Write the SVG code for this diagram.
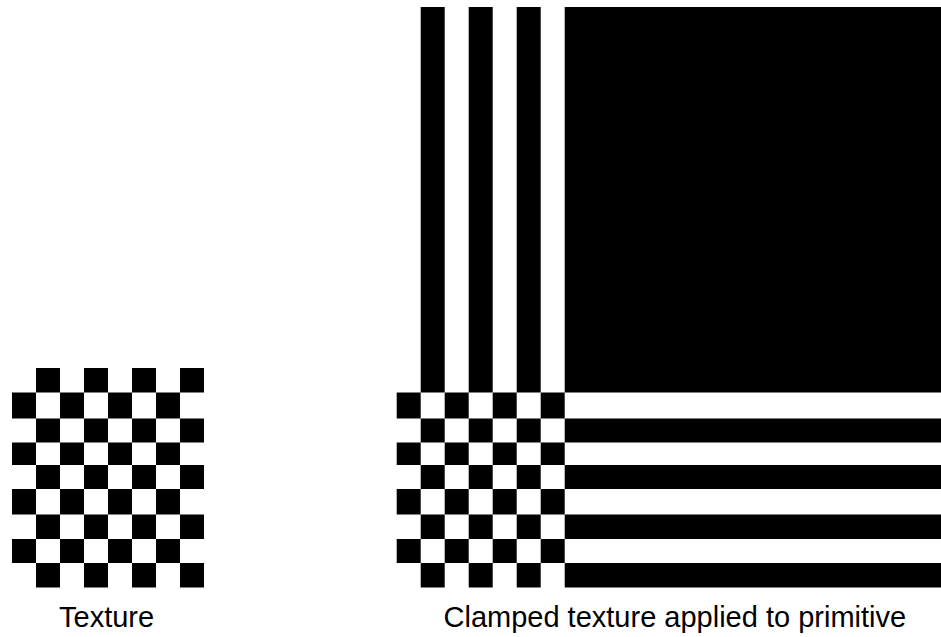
<svg xmlns="http://www.w3.org/2000/svg" width="941" height="637" viewBox="0 0 941 637">
<style>
.b{fill:#000}
.lbl{font-family:"Liberation Sans",Arial,sans-serif;font-size:29px;fill:#000}
</style>
<rect width="941" height="637" fill="#fff"/>
<g id="texture">
<rect class="b" x="36" y="368" width="24" height="24.5"/><rect class="b" x="84" y="368" width="24" height="24.5"/><rect class="b" x="132" y="368" width="24" height="24.5"/><rect class="b" x="180" y="368" width="24" height="24.5"/>
<rect class="b" x="12" y="392.5" width="24" height="26"/><rect class="b" x="60" y="392.5" width="24" height="26"/><rect class="b" x="108" y="392.5" width="24" height="26"/><rect class="b" x="156" y="392.5" width="24" height="26"/>
<rect class="b" x="36" y="418.5" width="24" height="24"/><rect class="b" x="84" y="418.5" width="24" height="24"/><rect class="b" x="132" y="418.5" width="24" height="24"/><rect class="b" x="180" y="418.5" width="24" height="24"/>
<rect class="b" x="12" y="442.5" width="24" height="22.5"/><rect class="b" x="60" y="442.5" width="24" height="22.5"/><rect class="b" x="108" y="442.5" width="24" height="22.5"/><rect class="b" x="156" y="442.5" width="24" height="22.5"/>
<rect class="b" x="36" y="465" width="24" height="24"/><rect class="b" x="84" y="465" width="24" height="24"/><rect class="b" x="132" y="465" width="24" height="24"/><rect class="b" x="180" y="465" width="24" height="24"/>
<rect class="b" x="12" y="489" width="24" height="25.5"/><rect class="b" x="60" y="489" width="24" height="25.5"/><rect class="b" x="108" y="489" width="24" height="25.5"/><rect class="b" x="156" y="489" width="24" height="25.5"/>
<rect class="b" x="36" y="514.5" width="24" height="24.5"/><rect class="b" x="84" y="514.5" width="24" height="24.5"/><rect class="b" x="132" y="514.5" width="24" height="24.5"/><rect class="b" x="180" y="514.5" width="24" height="24.5"/>
<rect class="b" x="12" y="539" width="24" height="24"/><rect class="b" x="60" y="539" width="24" height="24"/><rect class="b" x="108" y="539" width="24" height="24"/><rect class="b" x="156" y="539" width="24" height="24"/>
<rect class="b" x="36" y="563" width="24" height="24.5"/><rect class="b" x="84" y="563" width="24" height="24.5"/><rect class="b" x="132" y="563" width="24" height="24.5"/><rect class="b" x="180" y="563" width="24" height="24.5"/>
</g>
<g id="clamped">
<rect class="b" x="420.7" y="7" width="24" height="385.5"/><rect class="b" x="468.7" y="7" width="24" height="385.5"/><rect class="b" x="516.7" y="7" width="24" height="385.5"/><rect class="b" x="564.7" y="7" width="376.3" height="385.5"/>
<rect class="b" x="396.7" y="392.5" width="24" height="26"/><rect class="b" x="444.7" y="392.5" width="24" height="26"/><rect class="b" x="492.7" y="392.5" width="24" height="26"/><rect class="b" x="540.7" y="392.5" width="24" height="26"/>
<rect class="b" x="420.7" y="418.5" width="24" height="24"/><rect class="b" x="468.7" y="418.5" width="24" height="24"/><rect class="b" x="516.7" y="418.5" width="24" height="24"/><rect class="b" x="564.7" y="418.5" width="376.3" height="24"/>
<rect class="b" x="396.7" y="442.5" width="24" height="22.5"/><rect class="b" x="444.7" y="442.5" width="24" height="22.5"/><rect class="b" x="492.7" y="442.5" width="24" height="22.5"/><rect class="b" x="540.7" y="442.5" width="24" height="22.5"/>
<rect class="b" x="420.7" y="465" width="24" height="24"/><rect class="b" x="468.7" y="465" width="24" height="24"/><rect class="b" x="516.7" y="465" width="24" height="24"/><rect class="b" x="564.7" y="465" width="376.3" height="24"/>
<rect class="b" x="396.7" y="489" width="24" height="25.5"/><rect class="b" x="444.7" y="489" width="24" height="25.5"/><rect class="b" x="492.7" y="489" width="24" height="25.5"/><rect class="b" x="540.7" y="489" width="24" height="25.5"/>
<rect class="b" x="420.7" y="514.5" width="24" height="24.5"/><rect class="b" x="468.7" y="514.5" width="24" height="24.5"/><rect class="b" x="516.7" y="514.5" width="24" height="24.5"/><rect class="b" x="564.7" y="514.5" width="376.3" height="24.5"/>
<rect class="b" x="396.7" y="539" width="24" height="24"/><rect class="b" x="444.7" y="539" width="24" height="24"/><rect class="b" x="492.7" y="539" width="24" height="24"/><rect class="b" x="540.7" y="539" width="24" height="24"/>
<rect class="b" x="420.7" y="563" width="24" height="24.5"/><rect class="b" x="468.7" y="563" width="24" height="24.5"/><rect class="b" x="516.7" y="563" width="24" height="24.5"/><rect class="b" x="564.7" y="563" width="376.3" height="24.5"/>
</g>
<g id="labels">
<text class="lbl" x="59" y="627">Texture</text>
<text class="lbl" x="443.5" y="627">Clamped texture applied to primitive</text>
</g>
</svg>
